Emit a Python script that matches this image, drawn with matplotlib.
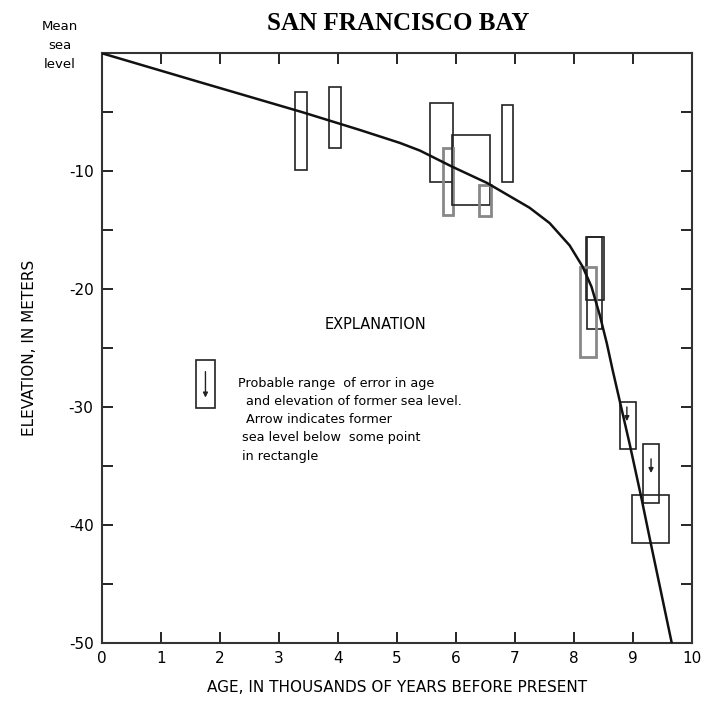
import matplotlib.pyplot as plt
from matplotlib.patches import Rectangle

# sea level curve (age in ka, elevation in m)
curve_age = [0, 1.66, 3.4, 4.37, 5.05, 5.39, 5.93, 6.53, 7.25, 7.59, 7.93, 8.15,
             8.30, 8.44, 8.56, 8.66, 8.95, 9.15, 9.29, 9.66]
curve_elev = [0, -2.45, -5.0, -6.5, -7.6, -8.25, -9.6, -11.0, -13.1, -14.4, -16.3, -18.1,
              -19.8, -22.2, -24.6, -26.9, -33.2, -37.8, -41.2, -50.0]

# error rectangles: (age min, age max, elev top, elev bottom)
rect_age_min = [3.27, 3.85, 5.56, 5.78, 5.93, 6.40, 6.78, 8.20, 8.22, 8.10, 8.78, 9.17, 8.98]
rect_age_max = [3.47, 4.05, 5.95, 5.95, 6.58, 6.59, 6.97, 8.51, 8.47, 8.37, 9.05, 9.44, 9.61]
rect_top = [-3.3, -2.9, -4.2, -8.0, -6.9, -11.2, -4.4, -15.6, -15.6, -18.1, -29.6, -33.1, -37.5]
rect_bot = [-9.9, -8.0, -10.9, -13.7, -12.9, -13.8, -10.9, -20.9, -23.4, -25.8, -33.6, -38.1, -41.5]
rect_grey = [False, False, False, True, False, True, False, False, False, True, False, False, False]

# arrows meaning "former sea level below some point in rectangle"
arrow_age = [8.9, 9.31]
arrow_elev = [-30.6, -35.0]

x_ticks = list(range(0, 11))
y_ticks = [0, -10, -20, -30, -40, -50]
y_labels = ['', '-10', '-20', '-30', '-40', '-50']

fig = plt.figure(figsize=(7.03, 7.01), dpi=100)
ax = fig.add_axes([0.145, 0.083, 0.839, 0.841])

for a0, a1, t, b, g in zip(rect_age_min, rect_age_max, rect_top, rect_bot, rect_grey):
    ax.add_patch(Rectangle((a0, b), a1 - a0, t - b, fill=False,
                           edgecolor='#888888' if g else '#222222',
                           linewidth=2.0 if g else 1.2, zorder=2))

for a, e in zip(arrow_age, arrow_elev):
    ax.annotate('', xy=(a, e - 0.6), xytext=(a, e + 0.6),
                arrowprops=dict(arrowstyle='-|>', color='#222222', lw=1.0,
                                mutation_scale=7, shrinkA=0, shrinkB=0))

ax.plot(curve_age, curve_elev, color='#111111', linewidth=1.8, zorder=3,
        solid_joinstyle='round')

# explanation
ax.text(4.63, -23.0, 'EXPLANATION', ha='center', va='center', fontsize=10.5)
ax.add_patch(Rectangle((1.59, -30.1), 0.33, 4.1, fill=False,
                       edgecolor='#222222', linewidth=1.2))
ax.annotate('', xy=(1.755, -29.2), xytext=(1.755, -27.0),
            arrowprops=dict(arrowstyle='-|>', color='#222222', lw=1.0,
                            mutation_scale=7, shrinkA=0, shrinkB=0))
expl_lines = ['Probable range  of error in age',
              '  and elevation of former sea level.',
              '  Arrow indicates former',
              ' sea level below  some point',
              ' in rectangle']
expl_y = [-28.0, -29.5, -31.1, -32.6, -34.2]
for s, yy in zip(expl_lines, expl_y):
    ax.text(2.3, yy, s, ha='left', va='center', fontsize=9.2)

ax.set_xlim(0, 10)
ax.set_ylim(-50, 0)
ax.set_xticks(x_ticks)
ax.set_xticklabels([str(v) for v in x_ticks], fontsize=11)
ax.set_yticks(y_ticks)
ax.set_yticklabels(y_labels, fontsize=11)
ax.set_yticks([-5, -15, -25, -35, -45], minor=True)
ax.tick_params(which='both', direction='in', top=True, right=True, length=8, width=1.2, pad=6)
for sp in ax.spines.values():
    sp.set_linewidth(1.5)
    sp.set_color('#333333')

ax.set_xlabel('AGE, IN THOUSANDS OF YEARS BEFORE PRESENT', fontsize=11, labelpad=10)
ax.set_ylabel('ELEVATION, IN METERS', fontsize=11)
ax.yaxis.set_label_coords(-0.11, 0.50)

fig.text(0.085, 0.935, 'Mean\nsea\nlevel', ha='center', va='center', fontsize=9.5, linespacing=1.6)
fig.text(0.567, 0.967, 'SAN FRANCISCO BAY', ha='center', va='center',
         fontsize=18, fontweight='bold', family='Liberation Serif')

fig.savefig('out.png', dpi=100)
